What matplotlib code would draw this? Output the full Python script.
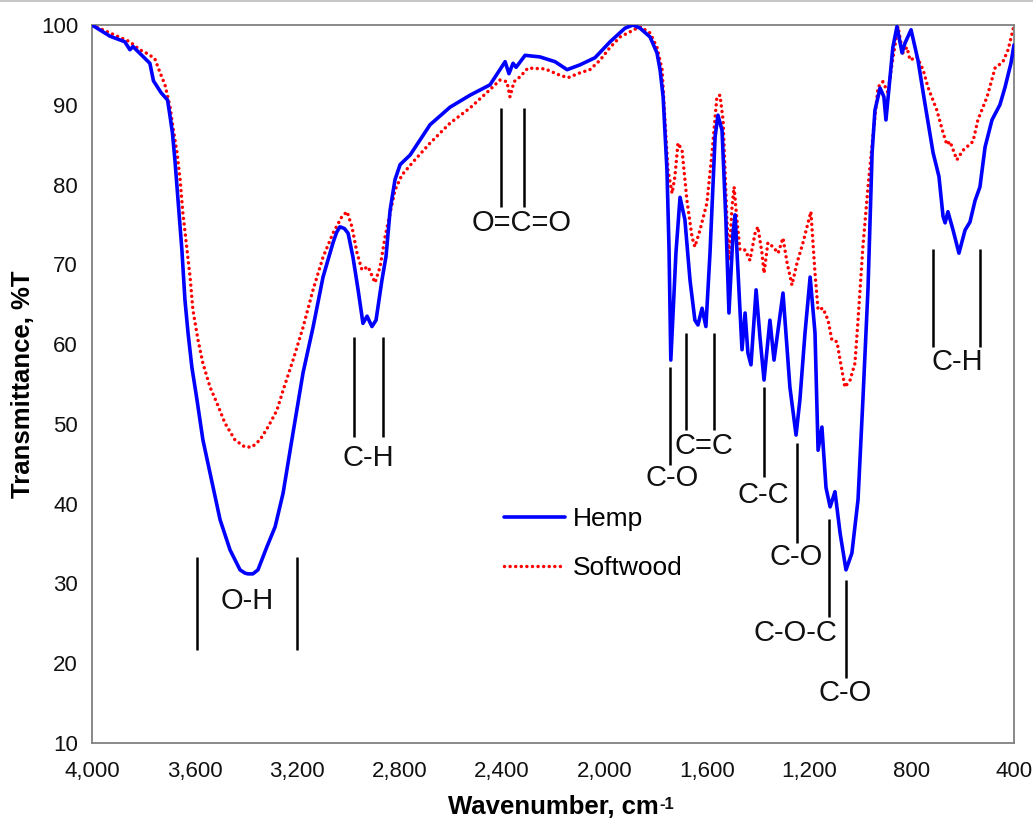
import matplotlib
matplotlib.use("Agg")
import matplotlib.pyplot as plt
from matplotlib.lines import Line2D

# ---------------- data ----------------
hemp_wn = [4000, 3930, 3872, 3852, 3840, 3774, 3760, 3730, 3705, 3695, 3686, 3676, 3664, 3649,
           3637, 3625, 3610, 3590, 3567, 3531, 3500, 3461, 3422, 3403, 3391, 3372, 3352, 3317,
           3285, 3254, 3215, 3176, 3137, 3098, 3059, 3045, 3032, 3015, 3000, 2981, 2961, 2942,
           2926, 2907, 2891, 2868, 2852, 2836, 2817, 2797, 2758, 2719, 2680, 2602,
           2524, 2446, 2387, 2372, 2356, 2344, 2309, 2251, 2192, 2145, 2095, 2036,
           1977, 1919, 1888, 1860, 1821, 1794, 1782, 1770, 1755, 1747, 1740, 1720, 1704, 1685,
           1665, 1646, 1634, 1618, 1603, 1587, 1567, 1556, 1540, 1525, 1513, 1497,
           1489, 1478, 1462, 1450, 1439, 1427, 1407, 1392, 1376, 1353, 1337, 1302,
           1275, 1251, 1236, 1216, 1196, 1177, 1165, 1150, 1134, 1118, 1099, 1079,
           1056, 1033, 1009, 990, 970, 954, 943, 923, 908, 900, 888, 873, 857, 837,
           826, 802, 775, 748, 716, 693, 677, 669, 658, 638, 615, 591, 572, 552,
           533, 513, 486, 455, 435, 412, 400]
hemp_t = [100, 98.6, 97.9, 96.9, 97.3, 95.2, 93.0, 91.5, 90.6, 88.5, 86.5, 83.0, 78.0, 71.8,
          65.5, 61.4, 57.1, 53.0, 48.0, 42.6, 38.0, 34.2, 31.7, 31.3, 31.2, 31.2, 31.7, 34.6,
          37.1, 41.3, 48.9, 56.4, 62.1, 68.4, 72.7, 74.0, 74.7, 74.5, 73.9, 70.9, 66.8, 62.6,
          63.5, 62.2, 63.0, 68.0, 71.0, 76.8, 80.6, 82.5, 83.7, 85.6, 87.5, 89.7,
          91.2, 92.5, 95.4, 93.9, 95.2, 94.7, 96.2, 96.0, 95.4, 94.4, 95.0, 95.9,
          97.9, 99.6, 100, 99.6, 98.5, 96.5, 94.4, 91.0, 81.8, 72.0, 58.0, 71.4, 78.4, 75.6,
          68.0, 63.0, 62.4, 64.5, 62.2, 71.4, 86.0, 88.7, 86.8, 75.6, 63.9, 74.0,
          76.2, 69.3, 59.3, 63.9, 58.9, 57.4, 66.8, 60.9, 55.5, 63.0, 58.0, 66.4,
          54.6, 48.6, 53.0, 61.4, 68.4, 61.4, 46.7, 49.6, 42.0, 39.6, 41.5, 36.3,
          31.7, 33.8, 40.5, 53.0, 67.0, 84.0, 89.3, 92.1, 91.0, 88.1, 92.2, 97.2,
          99.8, 96.5, 97.7, 99.4, 95.6, 90.2, 84.0, 81.0, 76.0, 75.2, 76.6, 74.3,
          71.4, 74.3, 75.3, 78.0, 79.7, 84.7, 88.1, 90.0, 92.2, 95.2, 97.5]

soft_wn = [4000, 3930, 3852, 3814, 3794, 3774, 3755, 3734, 3715, 3695, 3684, 3668,
           3656, 3645, 3629, 3617, 3606, 3586, 3567, 3539, 3512, 3481, 3442, 3403,
           3375, 3344, 3313, 3278, 3254, 3215, 3176, 3137, 3098, 3059, 3024, 3004,
           2985, 2965, 2946, 2922, 2895, 2875, 2856, 2836, 2817, 2790, 2739, 2680,
           2602, 2524, 2446, 2407, 2380, 2368, 2352, 2329, 2298, 2231, 2173, 2141,
           2095, 2056, 2016, 1977, 1938, 1860, 1821, 1794, 1774, 1763, 1751, 1735,
           1724, 1712, 1696, 1677, 1657, 1646, 1626, 1599, 1579, 1560, 1548, 1536,
           1521, 1513, 1501, 1493, 1482, 1470, 1450, 1431, 1411, 1400, 1384, 1376,
           1361, 1341, 1321, 1302, 1286, 1267, 1247, 1224, 1193, 1177, 1165, 1146,
           1126, 1111, 1091, 1079, 1060, 1040, 1021, 1009, 990, 970, 951, 931, 912,
           892, 876, 853, 834, 818, 806, 779, 755, 736, 701, 677, 662, 650, 623,
           599, 560, 541, 505, 474, 443, 423, 404, 400]
soft_t = [100, 99.0, 97.9, 96.9, 96.6, 96.2, 95.8, 94.0, 92.5, 89.7, 87.2, 84.0,
          80.6, 76.4, 71.8, 68.4, 64.3, 60.5, 57.6, 54.6, 52.6, 50.1, 48.0, 47.1,
          47.1, 48.0, 49.6, 51.7, 54.2, 58.0, 62.1, 66.8, 70.9, 73.9, 76.0, 76.6,
          74.7, 71.4, 69.3, 69.7, 67.7, 69.7, 73.4, 76.4, 79.3, 81.2, 83.1, 85.2,
          87.7, 89.6, 91.9, 93.1, 92.9, 91.0, 92.9, 93.5, 94.6, 94.5, 93.7, 93.4,
          94.0, 94.4, 95.6, 97.2, 98.5, 99.8, 99.0, 97.2, 94.4, 88.1, 81.8, 78.9,
          81.0, 85.2, 84.3, 78.0, 73.4, 72.2, 74.3, 77.7, 84.0, 91.0, 91.2, 88.1,
          75.6, 70.5, 77.2, 79.7, 75.6, 71.8, 71.8, 70.5, 73.9, 74.7, 71.4, 68.9,
          72.7, 72.2, 71.4, 73.3, 70.2, 67.4, 70.2, 72.7, 76.6, 68.9, 64.3, 64.5,
          63.0, 60.5, 60.3, 58.0, 54.6, 55.5, 57.6, 63.0, 72.2, 79.7, 86.0, 92.2, 92.9,
          91.5, 95.2, 99.8, 96.5, 97.2, 95.6, 96.0, 94.4, 92.2, 89.3, 86.5, 85.0, 85.4, 83.1,
          84.3, 85.4, 88.1, 91.0, 94.6, 95.4, 96.9, 99.4, 100]

series_labels = ["Hemp", "Softwood"]
x_ticks = [4000, 3600, 3200, 2800, 2400, 2000, 1600, 1200, 800, 400]
y_ticks = [10, 20, 30, 40, 50, 60, 70, 80, 90, 100]

# band annotations: label text, text position (wavenumber, %T)
band_labels = ["O-H", "C-H", "O=C=O", "C-O", "C=C", "C-C", "C-O", "C-O-C", "C-O", "C-H"]
band_text_x = [3395, 2920, 2321, 1735, 1610, 1380, 1251, 1255, 1060, 622]
band_text_y = [27.8, 45.7, 75.2, 43.2, 47.2, 41.1, 33.3, 23.8, 16.3, 57.8]
# marker lines: wavenumber, top %T, bottom %T
marker_x = [3590, 3200, 2977, 2864, 2403, 2313, 1743, 1681, 1571, 1376, 1247, 1122, 1056, 716, 533]
marker_top = [33.3, 33.3, 60.9, 60.9, 89.6, 89.6, 57.1, 61.4, 61.4, 54.6, 47.6, 38.1, 30.4, 71.9, 71.9]
marker_bot = [21.7, 21.7, 48.4, 48.4, 77.2, 77.2, 44.8, 49.2, 49.2, 43.3, 35.1, 25.8, 18.1, 59.6, 59.6]

# ---------------- plot ----------------
plt.rcParams['font.family'] = ['Liberation Sans', 'DejaVu Sans']

W, H = 1033, 824
fig = plt.figure(figsize=(W / 100, H / 100), dpi=100)
ax = fig.add_axes([92 / W, 1 - 743 / H, 922 / W, 718 / H])

ax.plot(hemp_wn, hemp_t, color='#0000FF', lw=2.6, solid_joinstyle='round',
        solid_capstyle='round', label=series_labels[0], zorder=3)
ax.plot(soft_wn, soft_t, color='#FF0000', lw=2.5, linestyle=(0, (0.01, 1.6)),
        dash_capstyle='round', label=series_labels[1], zorder=2)

for xm, yt, yb in zip(marker_x, marker_top, marker_bot):
    ax.plot([xm, xm], [yb, yt], color='black', lw=1.8, solid_capstyle='butt', zorder=4)
for lab, tx, ty in zip(band_labels, band_text_x, band_text_y):
    ax.text(tx, ty, lab, fontsize=21, ha='center', va='center', color='#111111', zorder=5)

ax.set_xlim(4000, 400)
ax.set_ylim(10, 100)
ax.set_xticks(x_ticks)
ax.set_xticklabels([f"{v:,}" for v in x_ticks])
ax.set_yticks(y_ticks)
ax.tick_params(axis='both', length=0, labelsize=16, colors='#111111')
ax.tick_params(axis='x', pad=13)
ax.tick_params(axis='y', pad=10)
for sp in ax.spines.values():
    sp.set_color('#808080')
    sp.set_linewidth(1.3)

ax.set_xlabel("Wavenumber, cm", fontsize=18.5, fontweight='bold', labelpad=9)
ax.set_ylabel("Transmittance, %T", fontsize=18.5, fontweight='bold', labelpad=4)

leg = ax.legend(loc='upper left', bbox_to_anchor=(0.447, 0.328), frameon=False,
                fontsize=19, handlelength=2.3, handletextpad=0.3, labelspacing=0.92,
                borderaxespad=0, borderpad=0)

fig.add_artist(Line2D([0, 1], [0.9985, 0.9985], transform=fig.transFigure,
                      color='#c8c8c8', lw=1.5))

# superscript "-1" after the x label
fig.canvas.draw()
bb = ax.xaxis.label.get_window_extent()
fig.text((bb.x1 + 1) / W, (bb.y1 - 2) / H, "-1", fontsize=12, fontweight='bold',
         ha='left', va='top', color='#111111')

fig.savefig("out.png", dpi=100)
